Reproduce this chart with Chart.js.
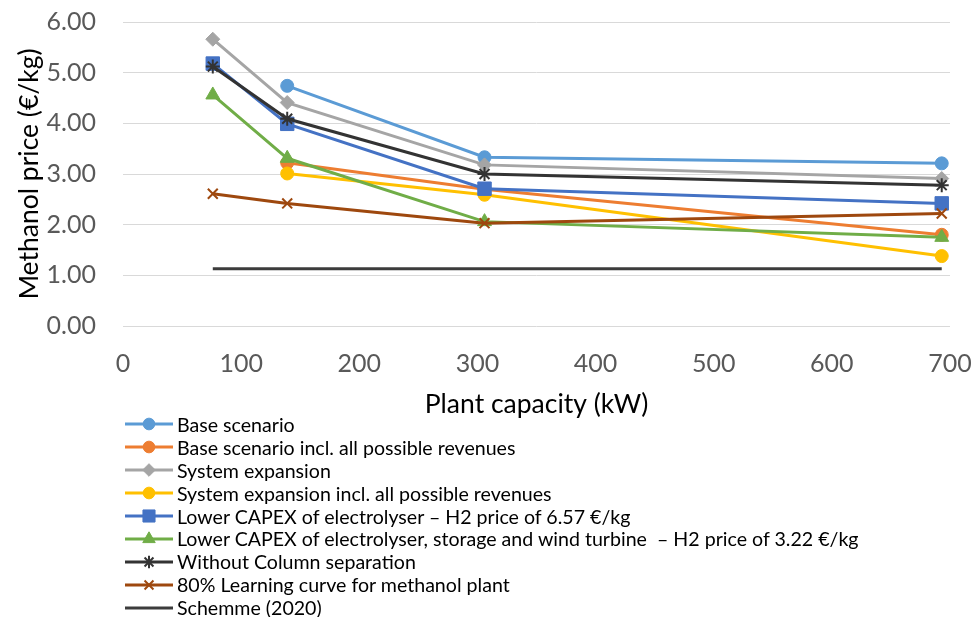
<!DOCTYPE html>
<html>
<head>
<meta charset="utf-8">
<script src="https://cdn.jsdelivr.net/npm/chart.js@4"></script>
<style>
  body { margin: 0; background: #fff; font-family: Lato, sans-serif; }
  #wrap { position: relative; width: 974px; height: 617px; }
  #legend { position: absolute; left: 125px; top: 413px; }
  .item { display: flex; align-items: center; height: 22.9px; font-size: 19.6px; color: #000; white-space: pre; }
  .item canvas { margin-right: 4px; }
</style>
</head>
<body>
<div id="wrap">
  <canvas id="chart" width="974" height="420"></canvas>
  <div id="legend"></div>
</div>
<script>
const capacity = [76, 139, 306, 693];

const baseScenario      = [null, 4.74, 3.33, 3.21];
const baseRevenues      = [null, 3.22, 2.70, 1.80];
const systemExpansion   = [5.66, 4.41, 3.18, 2.91];
const systemRevenues    = [null, 3.01, 2.59, 1.38];
const lowerCapexElec    = [5.18, 3.99, 2.71, 2.42];
const lowerCapexAll     = [4.56, 3.31, 2.06, 1.75];
const noColumn          = [5.12, 4.09, 3.00, 2.78];
const learningCurve     = [2.61, 2.42, 2.03, 2.22];
const schemme           = [1.13, null, null, 1.13];

const yTicks = [0, 1, 2, 3, 4, 5, 6];

function pts(values) {
  const out = [];
  values.forEach((v, i) => { if (v !== null) out.push({ x: capacity[i], y: v }); });
  return out;
}

function series(label, values, color, style, radius) {
  return {
    label: label,
    data: pts(values),
    showLine: true,
    borderColor: color,
    backgroundColor: color,
    borderWidth: 3,
    pointStyle: style,
    pointRadius: radius,
    pointBorderWidth: (style === 'star' || style === 'crossRot') ? 2 : 1,
    pointBorderColor: color,
    pointBackgroundColor: color
  };
}

const datasets = [
  series('Base scenario', baseScenario, '#5B9BD5', 'circle', 6.5),
  series('Base scenario incl. all possible revenues', baseRevenues, '#ED7D31', 'circle', 6.5),
  series('System expansion', systemExpansion, '#A5A5A5', 'rectRot', 7),
  series('System expansion incl. all possible revenues', systemRevenues, '#FFC000', 'circle', 6.5),
  series('Lower CAPEX of electrolyser \u2013 H2 price of 6.57 \u20ac/kg', lowerCapexElec, '#4472C4', 'rect', 9.5),
  series('Lower CAPEX of electrolyser, storage and wind turbine  \u2013 H2 price of 3.22 \u20ac/kg', lowerCapexAll, '#70AD47', 'triangle', 8),
  series('Without Column separation', noColumn, '#333333', 'star', 7),
  series('80% Learning curve for methanol plant', learningCurve, '#9E480E', 'crossRot', 7),
  series('Schemme (2020)', schemme, '#3C3C3C', 'circle', 0)
];
datasets.forEach((d, i) => { d.order = -i; });

const tickFont = { family: 'Lato', size: 25 };
const titleFont = { family: 'Lato', size: 26.5 };

const chart = new Chart(document.getElementById('chart'), {
  type: 'scatter',
  data: { datasets: datasets },
  options: {
    responsive: false,
    animation: false,
    layout: { padding: { left: 0, right: 24, top: 22, bottom: 0 } },
    plugins: { legend: { display: false }, tooltip: { enabled: false } },
    scales: {
      x: {
        type: 'linear',
        min: 0, max: 700,
        afterFit: s => { s.height = 94; s.paddingLeft = 0; s.paddingRight = 0; },
        grid: { display: false },
        border: { display: false },
        ticks: { stepSize: 100, color: '#595959', font: tickFont, padding: 15, maxRotation: 0 },
        title: { display: true, text: 'Plant capacity (kW)', color: '#000', font: titleFont, padding: 0 }
      },
      y: {
        min: 0, max: 6,
        afterFit: s => { s.width = 123; s.paddingTop = 0; s.paddingBottom = 0; },
        afterBuildTicks: s => { s.ticks = yTicks.map(v => ({ value: v })); },
        grid: { color: '#D9D9D9', lineWidth: 1, drawTicks: false },
        border: { display: false },
        ticks: { color: '#595959', font: tickFont, padding: 27, callback: v => v.toFixed(2) },
        title: { display: true, text: 'Methanol price (\u20ac/kg)', color: '#000', font: titleFont, padding: { top: 14, bottom: 0 } }
      }
    }
  }
});

// legend below the chart, one entry per row
const legend = document.getElementById('legend');
datasets.forEach(d => {
  const row = document.createElement('div');
  row.className = 'item';
  const c = document.createElement('canvas');
  c.width = 48; c.height = 20;
  const g = c.getContext('2d');
  g.strokeStyle = d.borderColor;
  g.fillStyle = d.backgroundColor;
  g.lineWidth = 3;
  g.beginPath(); g.moveTo(0, 10); g.lineTo(48, 10); g.stroke();
  if (d.pointRadius > 0) {
    g.lineWidth = d.pointBorderWidth;
    Chart.helpers.drawPoint(g, { pointStyle: d.pointStyle, radius: d.pointRadius * 0.9, rotation: 0, borderWidth: d.pointBorderWidth }, 24, 10);
  }
  row.appendChild(c);
  const t = document.createElement('span');
  t.textContent = d.label;
  row.appendChild(t);
  legend.appendChild(row);
});
</script>
</body>
</html>
